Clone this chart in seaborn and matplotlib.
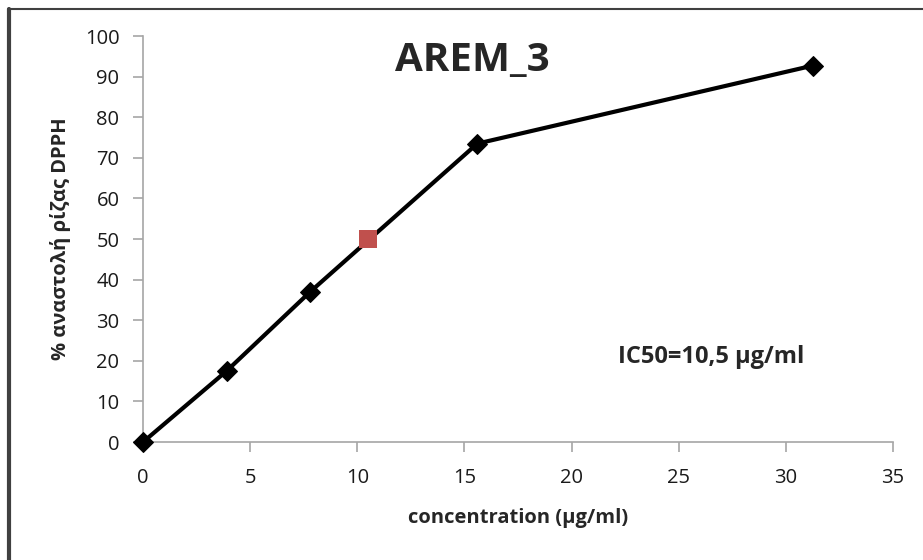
import pandas as pd
import matplotlib.pyplot as plt
import seaborn as sns

# data
conc = [0, 3.9, 7.8, 15.6, 31.25]
inhibition = [0, 17.5, 37.0, 73.5, 92.7]
ic50_x = [10.5]
ic50_y = [50]

df = pd.DataFrame({'conc': conc, 'inh': inhibition})
df_ic = pd.DataFrame({'conc': ic50_x, 'inh': ic50_y})

sns.set_style('white')
plt.rcParams['font.family'] = ['Open Sans', 'DejaVu Sans']

fig = plt.figure(figsize=(9.23, 5.6), dpi=100)
ax = fig.add_axes([0.155, 0.2107, 0.8125, 0.725])

sns.lineplot(data=df, x='conc', y='inh', ax=ax, color='black', linewidth=3,
             marker='D', markersize=10, markeredgecolor='black', clip_on=False,
             zorder=4)
sns.scatterplot(data=df_ic, x='conc', y='inh', ax=ax, color='#c0504d',
                marker='s', s=170, edgecolor='none', zorder=5, clip_on=False)

ax.set_xlim(0, 35)
ax.set_ylim(0, 100)
ax.set_xticks(range(0, 36, 5))
ax.set_yticks(range(0, 101, 10))
for s in ['top', 'right']:
    ax.spines[s].set_visible(False)
for s in ['left', 'bottom']:
    ax.spines[s].set_color('#a6a6a6')
    ax.spines[s].set_linewidth(1.2)
    ax.spines[s].set_zorder(1)
ax.tick_params(axis='both', direction='out', length=7, width=1.2, color='#a6a6a6',
               labelsize=14.5, labelcolor='#1a1a1a', bottom=True, left=True)
ax.tick_params(axis='x', pad=12)
ax.tick_params(axis='y', pad=10)
ax.set_xlabel('concentration (μg/ml)', fontsize=14.5, fontweight='bold', labelpad=14)
ax.set_ylabel('% αναστολή ρίζας DPPH', fontsize=14.5, fontweight='bold', labelpad=10)
ax.text(0.439, 0.94, 'AREM_3', transform=ax.transAxes, ha='center', va='center',
        fontsize=29, fontweight='bold')
ax.text(0.757, 0.209, 'IC50=10,5 μg/ml', transform=ax.transAxes, ha='center',
        va='center', fontsize=17, fontweight='bold')
ax.patch.set_alpha(0)

# chart frame (only top and left edges visible in the original crop)
fig.add_artist(plt.Line2D([0.0087, 1], [0.984, 0.984], transform=fig.transFigure,
                          color='#404040', linewidth=1.5))
fig.add_artist(plt.Line2D([0.0098, 0.0098], [0, 0.984], transform=fig.transFigure,
                          color='#404040', linewidth=3))

fig.savefig('out.png', dpi=100, facecolor='white')
